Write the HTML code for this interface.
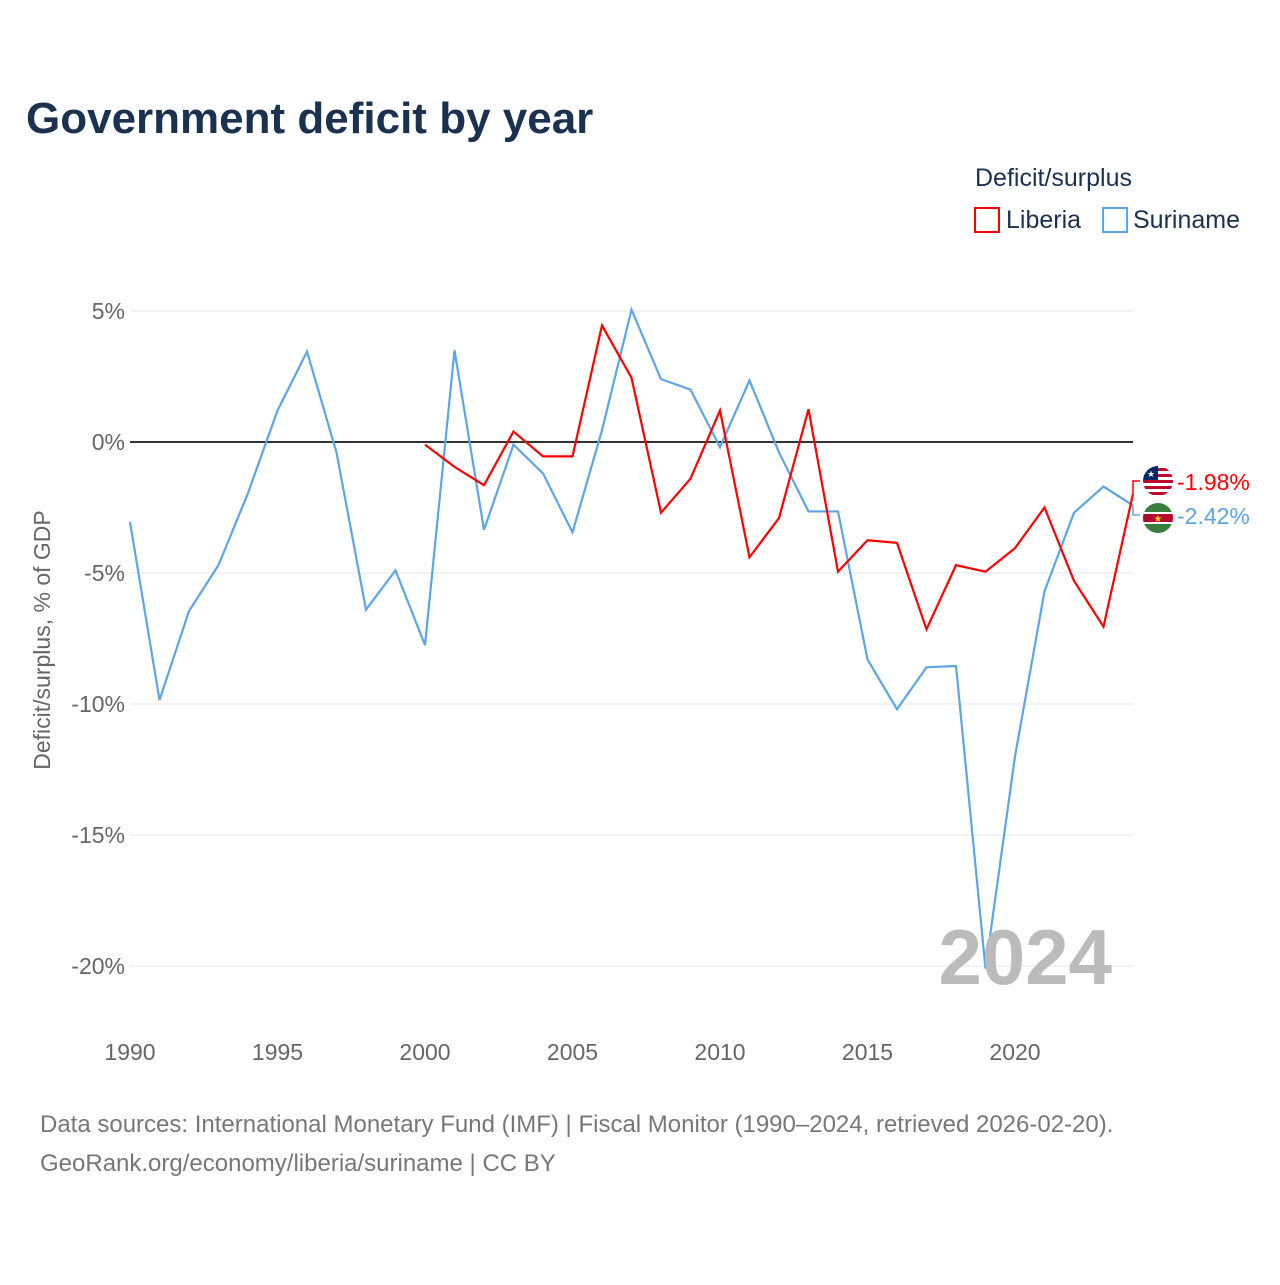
<!DOCTYPE html>
<html><head><meta charset="utf-8"><style>
body{margin:0;background:#fff;font-family:"Liberation Sans",sans-serif}
svg text{font-family:"Liberation Sans",sans-serif}
</style></head><body>
<svg id="chart" width="1280" height="1280" viewBox="0 0 1280 1280" xmlns="http://www.w3.org/2000/svg">
<defs>
<clipPath id="c1"><circle cx="1158" cy="481" r="15"/></clipPath>
<clipPath id="c2"><circle cx="1158" cy="518" r="15"/></clipPath>
</defs>
<rect width="1280" height="1280" fill="#fff"/>
<text x="26" y="133" font-size="44" font-weight="bold" fill="#1a3150">Government deficit by year</text>
<text x="975" y="186" font-size="25" fill="#1a3150">Deficit/surplus</text>
<g><rect x="975" y="208" width="24" height="24" fill="none" stroke="#ff0000" stroke-width="2"/><text x="1006" y="228" font-size="25" fill="#1a3150">Liberia</text></g>
<g><rect x="1103" y="208" width="24" height="24" fill="none" stroke="#5da5e8" stroke-width="2"/><text x="1133" y="228" font-size="25" fill="#1a3150">Suriname</text></g>
<text transform="translate(50,640) rotate(-90)" text-anchor="middle" font-size="23" fill="#666">Deficit/surplus, % of GDP</text>
<g id="grid"></g><g id="series"></g>
<text x="1112" y="984" text-anchor="end" font-size="78" font-weight="bold" fill="#bbb">2024</text>
<text x="40" y="1132" font-size="24" fill="#777">Data sources: International Monetary Fund (IMF) | Fiscal Monitor (1990–2024, retrieved 2026-02-20).</text>
<text x="40" y="1171" font-size="24" fill="#777">GeoRank.org/economy/liberia/suriname | CC BY</text>
</svg>
<script>
const years=[1990,1991,1992,1993,1994,1995,1996,1997,1998,1999,2000,2001,2002,2003,2004,2005,2006,2007,2008,2009,2010,2011,2012,2013,2014,2015,2016,2017,2018,2019,2020,2021,2022,2023,2024];
const suriname=[-3.05,-9.85,-6.45,-4.7,-1.95,1.2,3.45,-0.4,-6.4,-4.9,-7.75,3.5,-3.35,-0.1,-1.2,-3.45,0.45,5.05,2.4,2.0,-0.2,2.35,-0.4,-2.65,-2.65,-8.3,-10.2,-8.6,-8.55,-20.1,-12.0,-5.7,-2.7,-1.7,-2.42];
const liberiaYears=[2000,2001,2002,2003,2004,2005,2006,2007,2008,2009,2010,2011,2012,2013,2014,2015,2016,2017,2018,2019,2020,2021,2022,2023,2024];
const liberia=[-0.1,-0.95,-1.65,0.4,-0.55,-0.55,4.45,2.45,-2.7,-1.4,1.2,-4.4,-2.9,1.25,-4.95,-3.75,-3.85,-7.15,-4.7,-4.95,-4.05,-2.5,-5.3,-7.05,-1.98];
const yTicks=[5,0,-5,-10,-15,-20];
const xTicks=[1990,1995,2000,2005,2010,2015,2020];
const X=y=>130+(y-1990)*(1133-130)/34;
const Y=v=>442-v*26.2;
const NS="http://www.w3.org/2000/svg";
const grid=document.getElementById('grid'),ser=document.getElementById('series');
function mk(tag,attrs,parent){const e=document.createElementNS(NS,tag);for(const k in attrs)e.setAttribute(k,attrs[k]);parent.appendChild(e);return e;}
yTicks.forEach(t=>{
 const l=mk('line',{x1:130,x2:1133,y1:Y(t),y2:Y(t),stroke:t===0?'#333':'#e6e6e6','stroke-width':t===0?2:1},grid);
 
 
 const tx=mk('text',{x:125,y:Y(t)+8,'text-anchor':'end','font-size':23,fill:'#666'},grid);
 tx.textContent=t+'%';
 
 
});
xTicks.forEach(t=>{
 const tx=mk('text',{x:X(t),y:1060,'text-anchor':'middle','font-size':23,fill:'#666'},grid);
 tx.textContent=t;
 
 
});
function line(xs,vs,color,name){
 const p=mk('polyline',{points:xs.map((y,i)=>X(y)+','+Y(vs[i])).join(' '),fill:'none',stroke:color,'stroke-width':2.2},ser);
 
 
}
line(years,suriname,'#5da5e8','suriname-line');
line(liberiaYears,liberia,'#ff0000','liberia-line');
const lv=liberia[liberia.length-1],sv=suriname[suriname.length-1];
const ly=481,sy=515;
mk('polyline',{points:`${X(2024)},${Y(lv)} 1133,${ly} 1140,${ly}`,fill:'none',stroke:'#ff0000','stroke-width':1.5},ser);
mk('polyline',{points:`${X(2024)},${Y(sv)} 1133,${sy} 1140,${sy}`,fill:'none',stroke:'#5da5e8','stroke-width':1.5},ser);
const f1=mk('g',{'clip-path':'url(#c1)'},ser);


mk('rect',{x:1143,y:ly-15,width:30,height:30,fill:'#fff'},f1);
for(let i=0;i<5;i++)mk('rect',{x:1143,y:ly-13+i*6,width:30,height:3,fill:'#bf0a30'},f1);
mk('rect',{x:1143,y:ly-15,width:15,height:14,fill:'#002868'},f1);
mk('text',{x:1151,y:ly-4,'font-size':9,fill:'#fff','text-anchor':'middle'},f1).textContent='★';
const f2=mk('g',{'clip-path':'url(#c2)'},ser);


mk('rect',{x:1143,y:sy-12,width:30,height:30,fill:'#377e3f'},f2);
mk('rect',{x:1143,y:sy-3,width:30,height:12,fill:'#fff'},f2);
mk('rect',{x:1143,y:sy-1,width:30,height:8,fill:'#b40a2d'},f2);
mk('text',{x:1158,y:sy+7,'font-size':10,fill:'#ecc81d','text-anchor':'middle'},f2).textContent='★';
const t1=mk('text',{x:1177,y:ly+9,'font-size':23,fill:'#ff0000'},ser);
t1.textContent=lv.toFixed(2)+'%';


const t2=mk('text',{x:1177,y:sy+9,'font-size':23,fill:'#5da5e8'},ser);
t2.textContent=sv.toFixed(2)+'%';


</script>
</body></html>
